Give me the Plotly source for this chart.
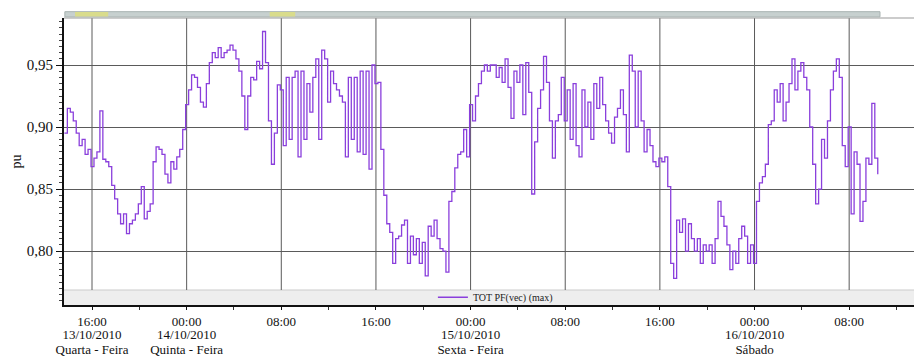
import plotly.graph_objects as go

# ---------------- data ----------------
start_hour = 13 + 40 / 60          # hours since 13/10/2010 00:00
step_hours = 0.25                  # 15-minute samples

pf_max = [
    # 13/10 afternoon / evening
    0.895, 0.915, 0.912, 0.905, 0.895, 0.885, 0.89, 0.878, 0.882, 0.868,
    0.875, 0.88, 0.913, 0.874, 0.872, 0.868, 0.853, 0.842, 0.83, 0.822,
    0.83, 0.814, 0.822, 0.825, 0.83, 0.838, 0.852, 0.826, 0.832, 0.838,
    0.872, 0.884, 0.882, 0.878, 0.862, 0.855, 0.872, 0.866,
    # 14/10 early morning
    0.876, 0.882, 0.898, 0.918, 0.93, 0.942, 0.94, 0.932, 0.92, 0.916,
    0.935, 0.952, 0.96, 0.956, 0.964, 0.956, 0.96, 0.962, 0.966, 0.962,
    0.955, 0.945, 0.925, 0.898, 0.925, 0.94, 0.938, 0.953, 0.947, 0.977,
    0.952, 0.905, 0.870, 0.895, 0.934, 0.93,
    # 14/10 day
    0.885, 0.94, 0.89, 0.94, 0.945, 0.876, 0.945, 0.89, 0.935, 0.912,
    0.94, 0.955, 0.89, 0.962, 0.955, 0.92, 0.945, 0.935, 0.93, 0.925,
    0.92, 0.876, 0.94, 0.89, 0.94, 0.88, 0.945, 0.878, 0.945, 0.866,
    0.95, 0.935, 0.936, 0.882, 0.845, 0.822,
    # 14/10 evening
    0.815, 0.79, 0.81, 0.812, 0.821, 0.825, 0.79, 0.812, 0.797, 0.81,
    0.79, 0.807, 0.78, 0.82, 0.812, 0.825, 0.81, 0.802, 0.8, 0.783,
    0.84, 0.848, 0.867, 0.878, 0.88, 0.898, 0.876, 0.918, 0.905, 0.925,
    0.935, 0.945, 0.95,
    # 15/10 morning
    0.945, 0.95, 0.95, 0.94, 0.948, 0.936, 0.955, 0.932, 0.907, 0.945,
    0.936, 0.95, 0.91, 0.952, 0.928, 0.846, 0.888, 0.915, 0.93, 0.957,
    0.936, 0.905, 0.875, 0.905, 0.91, 0.94, 0.905, 0.93, 0.89, 0.935,
    0.885, 0.876, 0.93, 0.9, 0.92, 0.89, 0.935,
    # 15/10 afternoon
    0.915, 0.94, 0.918, 0.905, 0.895, 0.887, 0.908, 0.915, 0.93, 0.91,
    0.88, 0.958, 0.945, 0.9, 0.945, 0.905, 0.88, 0.898, 0.885, 0.872,
    0.868, 0.875, 0.872, 0.876, 0.852, 0.79, 0.778, 0.825, 0.815, 0.826,
    0.8, 0.822, 0.81, 0.8, 0.81, 0.79, 0.805,
    # 15/10 night -> 16/10 morning
    0.8, 0.805, 0.79, 0.81, 0.84, 0.828, 0.82, 0.805, 0.785, 0.8,
    0.79, 0.81, 0.82, 0.812, 0.79, 0.805, 0.79, 0.84, 0.855, 0.86,
    0.87, 0.902, 0.905, 0.93, 0.92, 0.935, 0.905, 0.92, 0.935, 0.955,
    0.93, 0.945, 0.952, 0.94, 0.93, 0.9, 0.87,
    # 16/10 morning
    0.838, 0.85, 0.89, 0.875, 0.905, 0.93, 0.945, 0.955, 0.94, 0.885,
    0.868, 0.9, 0.83, 0.88, 0.87, 0.824, 0.84, 0.875, 0.87, 0.919,
    0.875, 0.862,
]
hours = [start_hour + i * step_hours for i in range(len(pf_max))]

major_hours = [16, 24, 32, 40, 48, 56, 64, 72, 80]
time_labels = ["16:00", "00:00", "08:00", "16:00", "00:00", "08:00", "16:00", "00:00", "08:00"]
date_hours = [16, 24, 48, 72]
date_labels = ["13/10/2010", "14/10/2010", "15/10/2010", "16/10/2010"]
day_labels = ["Quarta - Feira", "Quinta - Feira", "Sexta - Feira", "Sábado"]
y_ticks = [0.80, 0.85, 0.90, 0.95]
y_labels = ["0,80", "0,85", "0,90", "0,95"]
series_name = "TOT PF(vec) (max)"

# ---------------- layout constants ----------------
X_RANGE = [13.633, 85.48]
Y_RANGE = [0.7565, 0.9879]
BAND_TOP = 0.7686
FONT = "Liberation Serif, Times New Roman, DejaVu Serif, serif"
GRID = "#5a5a5a"
LINE_COLOR = "#8a3fdc"

fig = go.Figure()
fig.add_trace(go.Scatter(
    x=hours, y=pf_max, mode="lines", name=series_name,
    line=dict(color=LINE_COLOR, width=1.3, shape="hv"),
))
fig.add_trace(go.Scatter(x=[], y=[], xaxis="x2", showlegend=False, hoverinfo="skip"))
fig.add_trace(go.Scatter(x=[], y=[], xaxis="x3", showlegend=False, hoverinfo="skip"))

shapes = []
# legend band under the plot
shapes.append(dict(type="rect", xref="paper", yref="y", x0=0, x1=1,
                   y0=Y_RANGE[0], y1=BAND_TOP, fillcolor="#eeeeee",
                   line=dict(width=0), layer="below"))
shapes.append(dict(type="line", xref="paper", yref="y", x0=0, x1=1,
                   y0=BAND_TOP, y1=BAND_TOP, line=dict(color="#cccccc", width=1),
                   layer="below"))
# vertical grid lines (stop at legend band)
for h in major_hours:
    shapes.append(dict(type="line", xref="x", yref="y", x0=h, x1=h,
                       y0=BAND_TOP, y1=Y_RANGE[1], line=dict(color=GRID, width=1),
                       layer="below"))
# top border
shapes.append(dict(type="line", xref="paper", yref="paper", x0=0, x1=1, y0=1, y1=1,
                   line=dict(color="#999999", width=1)))
# scroll bar strip on top
shapes.append(dict(type="rect", xref="paper", yref="paper", x0=0.001, x1=0.96,
                   y0=1.004, y1=1.022, fillcolor="#c7d0cf",
                   line=dict(color="#a9b3b2", width=1)))
for a, b in [(0.013, 0.052), (0.242, 0.272)]:
    shapes.append(dict(type="rect", xref="paper", yref="paper", x0=a, x1=b,
                       y0=1.005, y1=1.021, fillcolor="#d9dc8c", line=dict(width=0)))

tick_font = dict(family=FONT, size=13, color="#111111")

fig.update_layout(
    width=914, height=358,
    margin=dict(l=64, r=0, t=18, b=53),
    paper_bgcolor="white", plot_bgcolor="white",
    font=dict(family=FONT, color="#111111"),
    shapes=shapes,
    showlegend=True,
    legend=dict(x=0.434, y=0.027, xanchor="left", yanchor="middle",
                orientation="h", bgcolor="rgba(0,0,0,0)",
                font=dict(family=FONT, size=10, color="#222222"),
                itemwidth=30),
    xaxis=dict(range=X_RANGE, tickmode="array", tickvals=major_hours, ticktext=time_labels,
               ticks="outside", ticklen=3, tickcolor="#111111",
               showline=True, linecolor="#111111", linewidth=2,
               showgrid=False, zeroline=False, tickfont=tick_font,
               ticklabelstandoff=0,
               minor=dict(dtick=4, tick0=0, ticks="outside", ticklen=3, tickcolor="#333333")),
    xaxis2=dict(range=X_RANGE, overlaying="x", anchor="y", side="bottom",
                tickmode="array", tickvals=date_hours, ticktext=date_labels,
                ticks="", showline=False, showgrid=False, zeroline=False,
                tickfont=tick_font, ticklabelstandoff=20),
    xaxis3=dict(range=X_RANGE, overlaying="x", anchor="y", side="bottom",
                tickmode="array", tickvals=date_hours, ticktext=day_labels,
                ticks="", showline=False, showgrid=False, zeroline=False,
                tickfont=tick_font, ticklabelstandoff=35),
    yaxis=dict(range=Y_RANGE, tickmode="array", tickvals=y_ticks, ticktext=y_labels,
               ticks="outside", ticklen=6, tickcolor="#111111",
               showline=True, linecolor="#111111", linewidth=2,
               showgrid=True, gridcolor=GRID, gridwidth=1, zeroline=False,
               tickfont=dict(family=FONT, size=15, color="#111111"),
               minor=dict(dtick=0.005, tick0=0, ticks="outside", ticklen=3, tickcolor="#444444"),
               title=dict(text="pu", font=dict(family=FONT, size=14), standoff=2)),
)

fig.write_html("out.html")
